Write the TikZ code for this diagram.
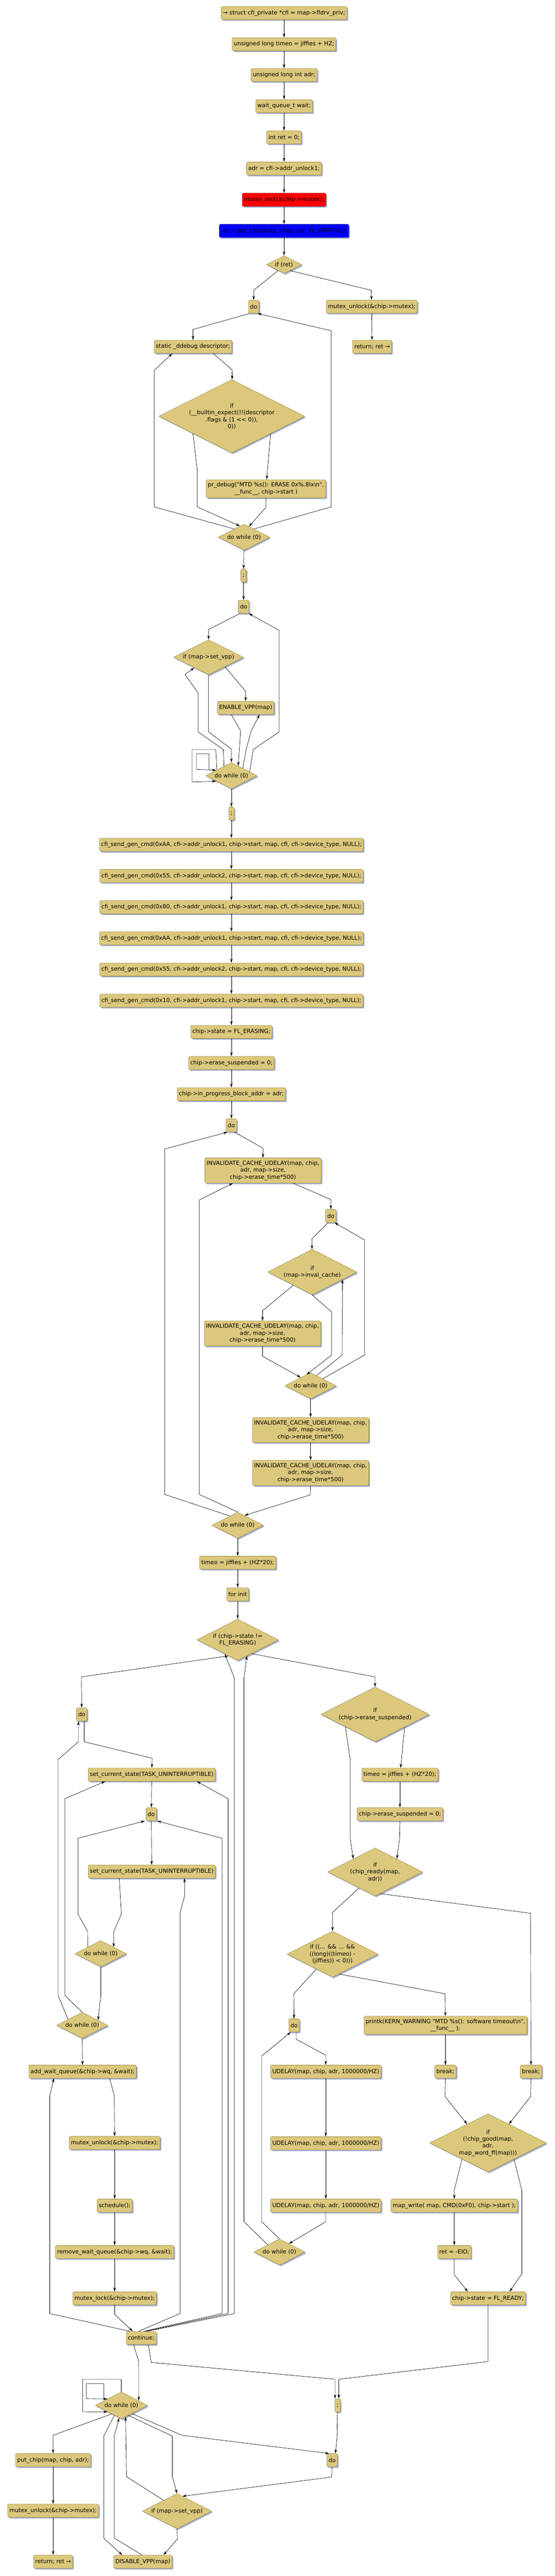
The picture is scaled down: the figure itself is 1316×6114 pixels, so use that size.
\documentclass[tikz,border=0pt]{standalone}
\usepackage{fontspec}
\newfontfamily\flowfont{DejaVu Sans}
\usetikzlibrary{shapes.geometric, arrows.meta, shadows}
\definecolor{tanfill}{RGB}{220,200,125}
\definecolor{tanedge}{RGB}{160,140,65}
\definecolor{shadowc}{RGB}{160,172,205}
\tikzset{
  stmt/.style={draw=tanedge, fill=tanfill, rounded corners=3pt, minimum height=31pt,
    inner xsep=4pt, inner ysep=6.5pt, align=center, line width=0.8pt,
    drop shadow={shadow xshift=3pt, shadow yshift=-3pt, fill=shadowc, opacity=1}},
  cond/.style={diamond, draw=tanedge, fill=tanfill, aspect=2, inner sep=0pt, align=center, line width=0.8pt,
    drop shadow={shadow xshift=3pt, shadow yshift=-3pt, fill=shadowc, opacity=1}},
  dwhile/.style={cond, minimum width=122pt, minimum height=62pt},
  arr/.style={-{Stealth[length=10pt, width=6pt]}, line width=0.8pt},
}
\begin{document}
\begin{tikzpicture}[x=1pt, y=-1pt, font=\flowfont\fontsize{13.5}{16.5}\selectfont]
    \useasboundingbox (0,0) rectangle (1316,6114);
    \fill [white] (0,0) rectangle (1316,6114);
    % start of the function
    \node [stmt] (n1) at (674,31) {→ struct cfi\_private *cfi = map->fldrv\_priv;};
    \node [stmt] (n2) at (674,105) {unsigned long timeo = jiffies + HZ;};
    \node [stmt] (n3) at (674,178) {unsigned long int adr;};
    \node [stmt] (n4) at (674,252) {wait\_queue\_t wait;};
    \node [stmt] (n5) at (674,326) {int ret = 0;};
    \node [stmt] (n6) at (674,400) {adr = cfi->addr\_unlock1;};
    \node [stmt, fill=red, draw=red!60!black] (n7) at (674,474) {mutex\_lock(\&chip->mutex);};
    \node [stmt, fill=blue, draw=blue!60!black] (n8) at (674,548) {ret = get\_chip(map, chip, adr, FL\_WRITING);};
    \node [cond, minimum width=84pt, minimum height=42pt] (ifret) at (674,628) {if (ret)};
    \node [stmt] (do1) at (602,728) {do};
    \node [stmt] (unlock1) at (882,728) {mutex\_unlock(\&chip->mutex);};
    \node [stmt] (ret1) at (883,823) {return; ret →};
    \node [stmt] (ddebug) at (458,823) {static \_ddebug descriptor;};
    \node [cond, minimum width=346pt, minimum height=174pt] (ifdesc) at (550,988)
        {if\\(\_\_builtin\_expect(!!(descriptor\\.flags \& (1 << 0)),\\0))};
    \node [stmt] (prdebug) at (631,1160) {pr\_debug("MTD \%s(): ERASE 0x\%.8lx\textbackslash n",\\\_\_func\_\_, chip->start )};
    \node [dwhile] (dw1) at (579,1275) {do while (0)};
    \node [stmt] (semi1) at (578,1366) {;};
    \node [stmt] (do2) at (578,1440) {do};
    \node [cond, minimum width=166pt, minimum height=83pt] (ifvpp1) at (495,1560) {if (map->set\_vpp)};
    \node [stmt] (envpp) at (583,1680) {ENABLE\_VPP(map)};
    \node [dwhile] (dw2) at (549,1841) {do while (0)};
    \node [stmt] (semi2) at (549,1931) {;};
    % erase commands
    \node [stmt] (cfi1) at (549,2005) {cfi\_send\_gen\_cmd(0xAA, cfi->addr\_unlock1, chip->start, map, cfi, cfi->device\_type, NULL);};
    \node [stmt] (cfi2) at (549,2079) {cfi\_send\_gen\_cmd(0x55, cfi->addr\_unlock2, chip->start, map, cfi, cfi->device\_type, NULL);};
    \node [stmt] (cfi3) at (549,2153) {cfi\_send\_gen\_cmd(0x80, cfi->addr\_unlock1, chip->start, map, cfi, cfi->device\_type, NULL);};
    \node [stmt] (cfi4) at (549,2227) {cfi\_send\_gen\_cmd(0xAA, cfi->addr\_unlock1, chip->start, map, cfi, cfi->device\_type, NULL);};
    \node [stmt] (cfi5) at (549,2301) {cfi\_send\_gen\_cmd(0x55, cfi->addr\_unlock2, chip->start, map, cfi, cfi->device\_type, NULL);};
    \node [stmt] (cfi6) at (549,2375) {cfi\_send\_gen\_cmd(0x10, cfi->addr\_unlock1, chip->start, map, cfi, cfi->device\_type, NULL);};
    \node [stmt] (erasing) at (549,2449) {chip->state = FL\_ERASING;};
    \node [stmt] (esusp1) at (549,2523) {chip->erase\_suspended = 0;};
    \node [stmt] (inprog) at (549,2597) {chip->in\_progress\_block\_addr = adr;};
    \node [stmt] (do3) at (549,2671) {do};
    \node [stmt] (inv1) at (624,2778) {INVALIDATE\_CACHE\_UDELAY(map, chip,\\adr, map->size,\\chip->erase\_time*500)};
    \node [stmt] (do4) at (785,2886) {do};
    \node [cond, minimum width=212pt, minimum height=108pt] (ifinval) at (741,3019) {if\\(map->inval\_cache)};
    \node [stmt] (inv2) at (623,3165) {INVALIDATE\_CACHE\_UDELAY(map, chip,\\adr, map->size,\\chip->erase\_time*500)};
    \node [dwhile] (dw3) at (737,3289) {do while (0)};
    \node [stmt] (inv3) at (737,3394) {INVALIDATE\_CACHE\_UDELAY(map, chip,\\adr, map->size,\\chip->erase\_time*500)};
    \node [stmt] (inv4) at (737,3496) {INVALIDATE\_CACHE\_UDELAY(map, chip,\\adr, map->size,\\chip->erase\_time*500)};
    \node [dwhile] (dw4) at (564,3620) {do while (0)};
    \node [stmt] (timeo2) at (564,3709) {timeo = jiffies + (HZ*20);};
    \node [stmt] (forinit) at (564,3784) {for init};
    % wait loop
    \node [cond, minimum width=194pt, minimum height=98pt] (ifstate) at (564,3892) {if (chip->state !=\\FL\_ERASING)};
    \node [stmt] (do5) at (194,4069) {do};
    \node [cond, minimum width=257pt, minimum height=130pt] (ifsusp) at (890,4069) {if\\(chip->erase\_suspended)};
    \node [stmt] (setcs1) at (360,4212) {set\_current\_state(TASK\_UNINTERRUPTIBLE)};
    \node [stmt] (timeo3) at (949,4212) {timeo = jiffies + (HZ*20);};
    \node [stmt] (do6) at (359,4306) {do};
    \node [stmt] (esusp2) at (949,4306) {chip->erase\_suspended = 0;};
    \node [stmt] (setcs2) at (360,4442) {set\_current\_state(TASK\_UNINTERRUPTIBLE)};
    \node [cond, minimum width=225pt, minimum height=114pt] (ifready) at (890,4443) {if\\(chip\_ready(map,\\adr))};
    \node [dwhile] (dw5) at (239,4637) {do while (0)};
    \node [cond, minimum width=216pt, minimum height=109pt] (iftimeo) at (789,4638)
        {if ((... \&\& ... \&\&\\((long)((timeo) -\\(jiffies)) < 0)))};
    \node [dwhile] (dw6) at (195,4807) {do while (0)};
    \node [stmt] (do7) at (698,4807) {do};
    \node [stmt] (printk) at (1057,4807) {printk(KERN\_WARNING "MTD \%s(): software timeout\textbackslash n",\\\_\_func\_\_ );};
    \node [stmt] (addwq) at (196,4917) {add\_wait\_queue(\&chip->wq, \&wait);};
    \node [stmt] (udelay1) at (773,4917) {UDELAY(map, chip, adr, 1000000/HZ)};
    \node [stmt] (brk1) at (1057,4917) {break;};
    \node [stmt] (brk2) at (1260,4917) {break;};
    \node [stmt] (unlock2) at (272,5086) {mutex\_unlock(\&chip->mutex);};
    \node [stmt] (udelay2) at (773,5087) {UDELAY(map, chip, adr, 1000000/HZ)};
    \node [cond, minimum width=277pt, minimum height=138pt] (ifgood) at (1158,5086) {if\\(!chip\_good(map,\\adr,\\map\_word\_ff(map)))};
    \node [stmt] (sched) at (272,5235) {schedule();};
    \node [stmt] (udelay3) at (773,5235) {UDELAY(map, chip, adr, 1000000/HZ)};
    \node [stmt] (mapwrite) at (1078,5235) {map\_write( map, CMD(0xF0), chip->start );};
    \node [stmt] (removewq) at (272,5345) {remove\_wait\_queue(\&chip->wq, \&wait);};
    \node [dwhile] (dw7) at (663,5345) {do while (0)};
    \node [stmt] (reteio) at (1078,5345) {ret = -EIO;};
    \node [stmt] (lock2) at (272,5455) {mutex\_lock(\&chip->mutex);};
    \node [stmt] (ready) at (1158,5455) {chip->state = FL\_READY;};
    \node [stmt] (cont) at (335,5549) {continue;};
    % end of the function
    \node [cond, minimum width=124pt, minimum height=64pt] (dw8) at (288,5709) {do while (0)};
    \node [stmt] (semi3) at (801,5709) {;};
    \node [stmt] (putchip) at (126,5839) {put\_chip(map, chip, adr);};
    \node [stmt] (do8) at (788,5839) {do};
    \node [stmt] (unlock3) at (126,5959) {mutex\_unlock(\&chip->mutex);};
    \node [cond, minimum width=164pt, minimum height=83pt] (ifvpp2) at (420,5960) {if (map->set\_vpp)};
    \node [stmt] (ret2) at (126,6080) {return; ret →};
    \node [stmt] (disvpp) at (339,6080) {DISABLE\_VPP(map)};
    \coordinate (selfa) at (496,1826);
    \coordinate (selfb) at (246,5693);

    \draw [arr] (n1) -- (n2);
    \draw [arr] (n2) -- (n3);
    \draw [arr] (n3) -- (n4);
    \draw [arr] (n4) -- (n5);
    \draw [arr] (n5) -- (n6);
    \draw [arr] (n6) -- (n7);
    \draw [arr] (n7) -- (n8);
    \draw [arr] (n8) -- (ifret);
    \draw [arr] (ifret.225) -- (602,689) -- (do1);
    \draw [arr] (ifret.-45) -- (881,689) -- (unlock1);
    \draw [arr] (unlock1) -- (ret1);
    \draw [arr] ([xshift=-9pt]do1.south) -- (458,782) -- (ddebug);
    \draw [arr] ([xshift=48pt]ddebug.south) -- (551,878) -- (ifdesc);
    \draw [arr] (ifdesc.-24) -- (prdebug);
    \draw [arr] (ifdesc.204) -- (468,1115) -- (468,1203) -- (dw1.110);
    \draw [arr] (prdebug.south) -- (631,1204) -- (dw1.65);
    \draw [arr] (dw1.140) -- (366,1203) -- (366,879) -- ([xshift=-49pt]ddebug.south);
    \draw [arr] (dw1.40) -- (786,1203) -- (786,785) -- ([xshift=9pt]do1.south);
    \draw [arr] (dw1) -- (semi1);
    \draw [arr] (semi1) -- (do2);
    \draw [arr] ([xshift=-8pt]do2.south) -- (495,1494) -- (ifvpp1);
    \draw [arr] (ifvpp1.-30) -- (583,1641) -- (envpp);
    \draw [arr] (ifvpp1.south) -- (495,1737) -- (549,1778) -- (dw2.north);
    \draw [arr] ([xshift=-34pt]envpp.south) -- (571,1735) -- (dw2.55);
    \draw [arr] (dw2.33) -- (584,1779) -- (596,1735) -- ([xshift=33pt]envpp.south);
    \draw [arr] (dw2.128) -- (530,1779) -- (470,1737) -- (470,1644) -- (439,1601) -- (ifvpp1.216);
    \draw [arr] (dw2.12) -- (601,1779) -- (662,1737) -- (662,1496) -- ([xshift=12pt]do2.south);
    \draw [arr] (dw2.158) -- (512,1779) -- (456,1779) -- (456,1856) -- (dw2.200);
    \draw [arr] (selfa) -- (496,1789) -- (466,1789) -- (466,1826) -- (dw2.160);
    \draw [arr] (dw2) -- (semi2);
    \draw [arr] (semi2) -- (cfi1);
    \draw [arr] (cfi1) -- (cfi2);
    \draw [arr] (cfi2) -- (cfi3);
    \draw [arr] (cfi3) -- (cfi4);
    \draw [arr] (cfi4) -- (cfi5);
    \draw [arr] (cfi5) -- (cfi6);
    \draw [arr] (cfi6) -- (erasing);
    \draw [arr] (erasing) -- (esusp1);
    \draw [arr] (esusp1) -- (inprog);
    \draw [arr] (inprog) -- (do3);
    \draw [arr] ([xshift=7pt]do3.south) -- (624,2725) -- (inv1);
    \draw [arr] ([xshift=71pt]inv1.south) -- (785,2847) -- (do4);
    \draw [arr] ([xshift=-7pt]do4.south) -- (740,2941) -- (ifinval);
    \draw [arr] (ifinval.215) -- (623,3111) -- (inv2);
    \draw [arr] (ifinval.south) -- (787,3114) -- (787,3216) -- (dw3.110);
    \draw [arr] (inv2.south) -- (623,3219) -- (dw3.140);
    \draw [arr] (dw3.60) -- (812,3216) -- (ifinval.-14);
    \draw [arr] (dw3.30) -- (865,3216) -- (865,2943) -- ([xshift=9pt]do4.south);
    \draw [arr] (dw3) -- (inv3);
    \draw [arr] (inv3) -- (inv4);
    \draw [arr] (inv4.south) -- (736,3548) -- (dw4.55);
    \draw [arr] (dw4.130) -- (391,3547) -- (391,2727) -- ([xshift=-9pt]do3.south);
    \draw [arr] (dw4.north) -- (473,3547) -- (473,2848) -- ([xshift=-71pt]inv1.south);
    \draw [arr] (dw4) -- (timeo2);
    \draw [arr] (timeo2) -- (forinit);
    \draw [arr] (forinit) -- (ifstate);
    \draw [arr] (ifstate.240) -- (193,3980) -- (do5);
    \draw [arr] (ifstate.-45) -- (890,3980) -- (ifsusp);
    \draw [arr] ([xshift=6pt]do5.south) -- (200,4134) -- (361,4173) -- (setcs1);
    \draw [arr] (dw6.157) -- (138,4736) -- (138,4176) -- (186,4134) -- ([xshift=-8pt]do5.south);
    \draw [arr] (dw6.north) -- (154,4736) -- (154,4269) -- ([xshift=-110pt]setcs1.south);
    \draw [arr] (setcs1) -- (do6);
    \draw [arr] (dw5.153) -- (208,4584) -- (185,4543) -- (185,4363) -- ([xshift=-15pt]do6.south);
    \draw [arr] (do6) -- (setcs2);
    \draw [arr] ([xshift=-77pt]setcs2.south) -- (288,4543) -- (270,4584) -- (dw5.27);
    \draw [arr] (dw5.south) -- (239,4739) -- (dw6.18);
    \draw [arr] (dw6) -- (addwq);
    \draw [arr] ([xshift=64pt]addwq.south) -- (271,4973) -- (unlock2);
    \draw [arr] (unlock2) -- (sched);
    \draw [arr] (sched) -- (removewq);
    \draw [arr] (removewq) -- (lock2);
    \draw [arr] (lock2.south) -- (272,5493) -- ([xshift=-20pt]cont.north);
    \draw [arr] ([xshift=-27pt]cont.north) -- (118,5491) -- (118,4975) -- ([xshift=-68pt]addwq.south);
    \draw [arr] ([xshift=-6pt]cont.north) -- (427,5491) -- (427,4541) -- (438,4500) -- ([xshift=78pt]setcs2.south);
    \draw [arr] ([xshift=6pt]cont.north) -- (527,5491) -- (527,4363) -- ([xshift=14pt]do6.south);
    \draw [arr] ([xshift=10pt]cont.north) -- (541,5491) -- (541,4269) -- ([xshift=107pt]setcs1.south);
    \draw [arr] ([xshift=14pt]cont.north) -- (556,5491) -- (556,3982) -- (ifstate.228);
    \draw [arr] (ifsusp.203) -- (831,4176) -- (831,4363) -- (ifready.149);
    \draw [arr] (ifsusp.-23) -- (timeo3);
    \draw [arr] (timeo3) -- (esusp2);
    \draw [arr] (esusp2.south) -- (948,4363) -- (ifready.31);
    \draw [arr] (ifready.225) -- (789,4539) -- (iftimeo);
    \draw [arr] (ifready.-77) -- (1259,4541) -- (brk2);
    \draw [arr] (iftimeo.223) -- (697,4732) -- (do7);
    \draw [arr] (iftimeo.-72) -- (1056,4732) -- (printk);
    \draw [arr] (printk) -- (brk1);
    \draw [arr] ([xshift=5pt]do7.south) -- (703,4840) -- (773,4878) -- (udelay1);
    \draw [arr] (dw7.north) -- (621,5273) -- (621,4880) -- ([xshift=-8pt]do7.south);
    \draw [arr] (udelay1) -- (udelay2);
    \draw [arr] (udelay2) -- (udelay3);
    \draw [arr] (udelay3.south) -- (773,5273) -- (dw7.41);
    \draw [arr] (dw7.148) -- (579,5273) -- (579,3982) -- (ifstate.-60);
    \draw [arr] (brk1.south) -- (1056,4976) -- (ifgood.138);
    \draw [arr] (brk2.south) -- (1259,4976) -- (ifgood.42);
    \draw [arr] (ifgood.212) -- (1078,5198) -- (mapwrite);
    \draw [arr] (ifgood.-32) -- (1238,5198) -- (1238,5397) -- ([xshift=51pt]ready.north);
    \draw [arr] (mapwrite) -- (reteio);
    \draw [arr] (reteio.south) -- (1078,5399) -- ([xshift=-48pt]ready.north);
    \draw [arr] (ready.south) -- (1158,5605) -- (804,5647) -- ([xshift=3pt]semi3.north);
    \draw [arr] ([xshift=17pt]cont.south) -- (359,5607) -- (795,5647) -- ([xshift=-6pt]semi3.north);
    \draw [arr] ([xshift=-18pt]cont.south) -- (329,5604) -- (dw8.15);
    \draw [arr] (semi3) -- (800,5782) -- ([xshift=8pt]do8.north);
    \draw [arr] (dw8.221) -- (126,5780) -- (putchip);
    \draw [arr] (dw8.-38) -- (432,5780) -- ([xshift=-7pt]do8.north);
    \draw [arr] (dw8.-55) -- (409,5782) -- (409,5878) -- (ifvpp2.north);
    \draw [arr] (ifvpp2.141) -- (300,5878) -- (dw8.-70);
    \draw [arr] (do8.south) -- (787,5879) -- (ifvpp2.70);
    \draw [arr] (ifvpp2.south) -- (421,6026) -- ([xshift=49pt]disvpp.north);
    \draw [arr] (dw8.235) -- (246,5782) -- (246,6024) -- ([xshift=-49pt]disvpp.north);
    \draw [arr] ([xshift=-2pt]disvpp.north) -- (271,6024) -- (271,5782) -- (dw8.-100);
    \draw [arr] (dw8.north) -- (288,5647) -- (196,5647) -- (196,5724) -- (dw8.205);
    \draw [arr] (selfb) -- (246,5657) -- (205,5657) -- (205,5693) -- (dw8.155);
    \draw [arr] (putchip) -- (unlock3);
    \draw [arr] (unlock3) -- (ret2);
\end{tikzpicture}
\end{document}
